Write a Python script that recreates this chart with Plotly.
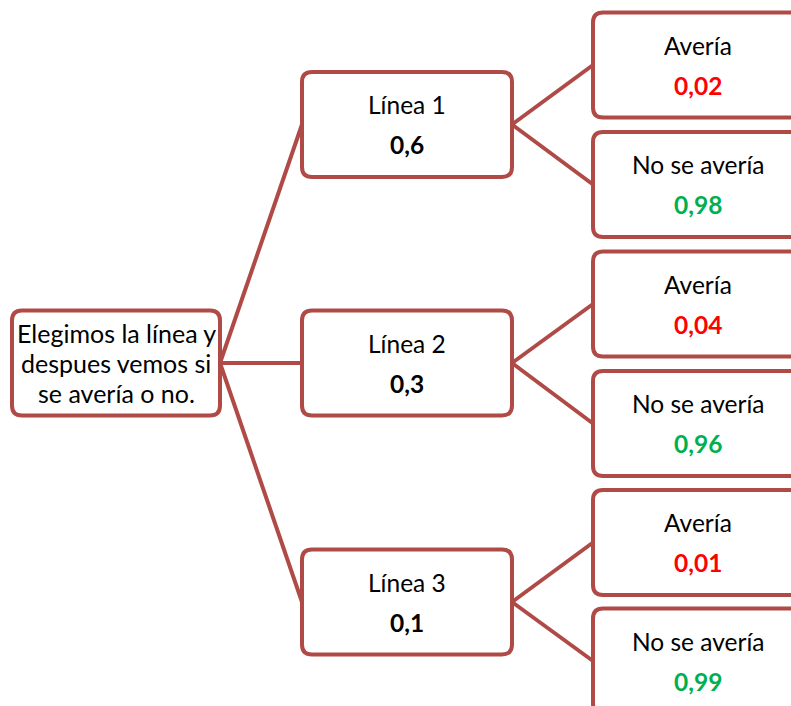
import plotly.graph_objects as go

# Tree content
root_lines = ["Elegimos la línea y", "despues vemos si", "se avería o no."]
branch_names = ["Línea 1", "Línea 2", "Línea 3"]
branch_probs = ["0,6", "0,3", "0,1"]
leaf_names = ["Avería", "No se avería"]
leaf_probs = [["0,02", "0,98"], ["0,04", "0,96"], ["0,01", "0,99"]]

BORDER = "#B04A47"
RED = "#FF0000"
GREEN = "#00B050"
FONT = "Lato"
FS = 24.5

W, H = 791, 706
BOX_H = 105
R = 10

root_box = (12, 220, 363)               # x0, x1, yc
branch_x = (302, 512)
branch_yc = [124.5, 363, 602]
leaf_x = (593, 806)
leaf_yc = [[65, 184.5], [304, 423.5], [542.5, 661]]


def rounded(x0, x1, y0, y1, r=R):
    return (f"M {x0+r},{y0} L {x1-r},{y0} Q {x1},{y0} {x1},{y0+r} "
            f"L {x1},{y1-r} Q {x1},{y1} {x1-r},{y1} L {x0+r},{y1} "
            f"Q {x0},{y1} {x0},{y1-r} L {x0},{y0+r} Q {x0},{y0} {x0+r},{y0} Z")


shapes = []
annotations = []

# edges first
for i, yc in enumerate(branch_yc):
    shapes.append(dict(type="line", x0=root_box[1], y0=root_box[2], x1=branch_x[0], y1=yc,
                       line=dict(color=BORDER, width=4)))
    for j in range(2):
        shapes.append(dict(type="line", x0=branch_x[1], y0=yc, x1=leaf_x[0], y1=leaf_yc[i][j],
                           line=dict(color=BORDER, width=4)))


def add_box(x0, x1, yc):
    shapes.append(dict(type="path", path=rounded(x0, x1, yc - BOX_H / 2, yc + BOX_H / 2),
                       fillcolor="white", line=dict(color=BORDER, width=4)))


def add_text(x, y, text, color="black", bold=False, size=FS):
    if bold:
        text = f"<b>{text}</b>"
    annotations.append(dict(x=x, y=y, text=text, showarrow=False, xanchor="center", yanchor="middle",
                            font=dict(family=FONT, size=size, color=color)))


# root
add_box(root_box[0], root_box[1], root_box[2])
for k, line in enumerate(root_lines):
    add_text((root_box[0] + root_box[1]) / 2, root_box[2] + (k - 1) * 30, line, size=25)

# branches and leaves
for i, yc in enumerate(branch_yc):
    add_box(branch_x[0], branch_x[1], yc)
    add_text(sum(branch_x) / 2, yc - 20, branch_names[i])
    add_text(sum(branch_x) / 2, yc + 20, branch_probs[i], bold=True)
    for j in range(2):
        ly = leaf_yc[i][j]
        add_box(leaf_x[0], leaf_x[1], ly)
        add_text(698, ly - 20, leaf_names[j])
        add_text(698, ly + 20, leaf_probs[i][j], color=RED if j == 0 else GREEN, bold=True)

fig = go.Figure()
fig.update_layout(
    width=W, height=H,
    margin=dict(l=0, r=0, t=0, b=0),
    paper_bgcolor="white", plot_bgcolor="white",
    xaxis=dict(range=[0, W], visible=False, fixedrange=True),
    yaxis=dict(range=[H, 0], visible=False, fixedrange=True),
    shapes=shapes, annotations=annotations,
    showlegend=False,
)
# drop the page's default body margin so the figure fills the window
fig.write_html("out.html", config={"displayModeBar": False},
               post_script="document.body.style.margin='0';document.body.style.overflow='hidden';")
